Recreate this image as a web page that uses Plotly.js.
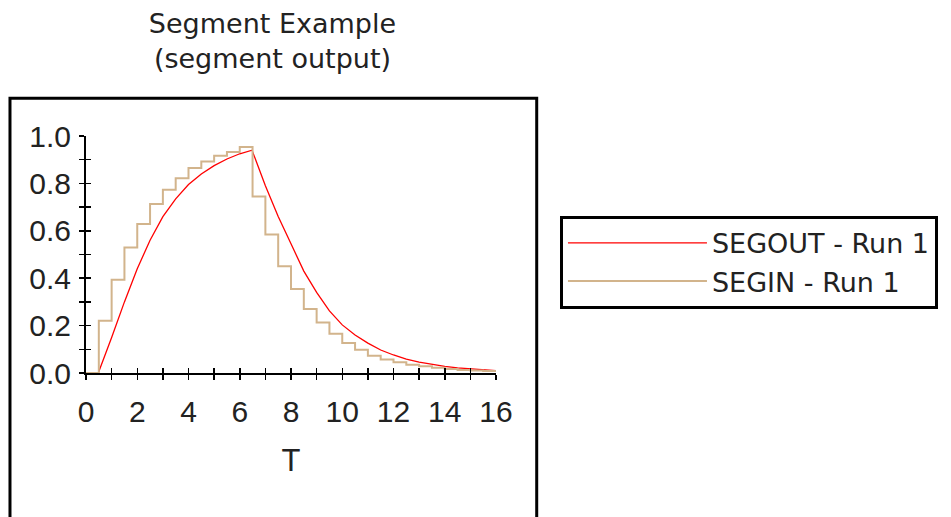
<!DOCTYPE html>
<html>
<head>
<meta charset="utf-8">
<script src="https://cdn.plot.ly/plotly-3.0.1.min.js"></script>
<style>html,body{margin:0;padding:0;background:#fff;}#chart{width:951px;height:517px;}</style>
</head>
<body>
<div id="chart"></div>
<script>
// SEGIN (step input, value held from each time until the next)
var seginT = [0, 0.5, 1.0, 1.5, 2.0, 2.5, 3.0, 3.5, 4.0, 4.5, 5.0, 5.5, 6.0, 6.5, 7.0, 7.5, 8.0, 8.5, 9.0, 9.5, 10.0, 10.5, 11.0, 11.5, 12.0, 12.5, 13.0, 13.5, 14.0, 14.5, 15.0, 15.5, 16.0];
var seginV = [0, 0.22, 0.393, 0.53, 0.629, 0.713, 0.773, 0.822, 0.865, 0.892, 0.917, 0.932, 0.954, 0.745, 0.584, 0.450, 0.354, 0.270, 0.213, 0.166, 0.127, 0.098, 0.073, 0.057, 0.045, 0.035, 0.028, 0.022, 0.017, 0.013, 0.011, 0.008, 0.008];
// SEGOUT (smooth output)
var segoutT = [0, 0.48, 1.0, 1.5, 2.0, 2.5, 3.0, 3.5, 4.0, 4.5, 5.0, 5.5, 6.0, 6.48, 7.0, 7.5, 8.0, 8.5, 9.0, 9.5, 10.0, 10.5, 11.0, 11.5, 12.0, 12.5, 13.0, 13.5, 14.0, 14.5, 15.0, 15.5, 16.0];
var segoutV = [0, 0, 0.15, 0.30, 0.44, 0.56, 0.66, 0.735, 0.795, 0.84, 0.875, 0.903, 0.925, 0.94, 0.79, 0.66, 0.545, 0.43, 0.34, 0.262, 0.203, 0.16, 0.126, 0.097, 0.076, 0.059, 0.046, 0.036, 0.028, 0.022, 0.017, 0.013, 0.01];
var seriesNames = ['SEGOUT - Run 1', 'SEGIN - Run 1'];
var xTickVals = [0, 2, 4, 6, 8, 10, 12, 14, 16];
var yTickVals = [0, 0.2, 0.4, 0.6, 0.8, 1.0];

var tickFont = {family: 'Liberation Sans, Arial, sans-serif', size: 30, color: '#222'};
var titleFont = {family: 'DejaVu Sans, sans-serif', size: 27, color: '#222'};
var legendFont = {family: 'DejaVu Sans, sans-serif', size: 27, color: '#222'};

var traces = [
  {x: segoutT, y: segoutV, name: seriesNames[0], type: 'scatter', mode: 'lines',
   line: {color: '#ff0000', width: 1.3}, xaxis: 'x', yaxis: 'y'},
  {x: seginT, y: seginV, name: seriesNames[1], type: 'scatter', mode: 'lines',
   line: {color: '#d2b48c', width: 2, shape: 'hv'}, xaxis: 'x2', yaxis: 'y2'}
];

var axCommon = {
  showgrid: false, zeroline: false, showline: true, linecolor: '#000', linewidth: 2,
  ticks: 'outside', ticklen: 5, tickwidth: 1.5, tickcolor: '#000', fixedrange: true
};

var layout = {
  width: 951, height: 517,
  margin: {l: 86, r: 455, t: 136, b: 144, autoexpand: false},
  paper_bgcolor: '#fff', plot_bgcolor: '#fff',
  title: {text: 'Segment Example<br>(segment output)', font: titleFont,
          x: 0.2865, xref: 'container', xanchor: 'center',
          y: 0.936, yref: 'container', yanchor: 'top'},
  xaxis: Object.assign({}, axCommon, {
    range: [0, 16], tickvals: xTickVals, tickfont: tickFont, ticklabelstandoff: 6,
    minor: {dtick: 1, tick0: 0, ticks: 'outside', ticklen: 5, tickwidth: 1.5, tickcolor: '#000', showgrid: false},
    title: {text: 'T', font: {family: 'Liberation Sans, Arial, sans-serif', size: 31, color: '#222'}, standoff: 22},
    automargin: true
  }),
  yaxis: Object.assign({}, axCommon, {
    range: [0, 1], tickvals: yTickVals, tickformat: '.1f', tickfont: tickFont, ticklabelstandoff: 2,
    minor: {dtick: 0.1, tick0: 0, ticks: 'outside', ticklen: 5, tickwidth: 1.5, tickcolor: '#000', showgrid: false}
  }),
  xaxis2: {overlaying: 'x', anchor: 'y2', range: [0, 16], dtick: 1, tick0: 0, ticks: 'inside', ticklen: 5,
           tickwidth: 1.5, tickcolor: '#000', showticklabels: false, showline: false, showgrid: false, zeroline: false, fixedrange: true},
  yaxis2: {overlaying: 'y', anchor: 'x2', range: [0, 1], dtick: 0.1, tick0: 0, ticks: 'inside', ticklen: 5,
           tickwidth: 1.5, tickcolor: '#000', showticklabels: false, showline: false, showgrid: false, zeroline: false, fixedrange: true},
  showlegend: true,
  legend: {x: 1.156, y: 0.663, xanchor: 'left', yanchor: 'top', xref: 'paper', yref: 'paper',
           bordercolor: '#000', borderwidth: 3, bgcolor: '#fff', font: legendFont, itemwidth: 139,
           tracegroupgap: 0},
  shapes: [
    {type: 'rect', xref: 'paper', yref: 'paper', x0: -0.1854, x1: 1.0993, y0: -1.5, y1: 1.159,
     line: {color: '#000', width: 3}, fillcolor: 'rgba(0,0,0,0)', layer: 'above'}
  ]
};

Plotly.newPlot('chart', traces, layout, {displayModeBar: false, staticPlot: true});
</script>
</body>
</html>
